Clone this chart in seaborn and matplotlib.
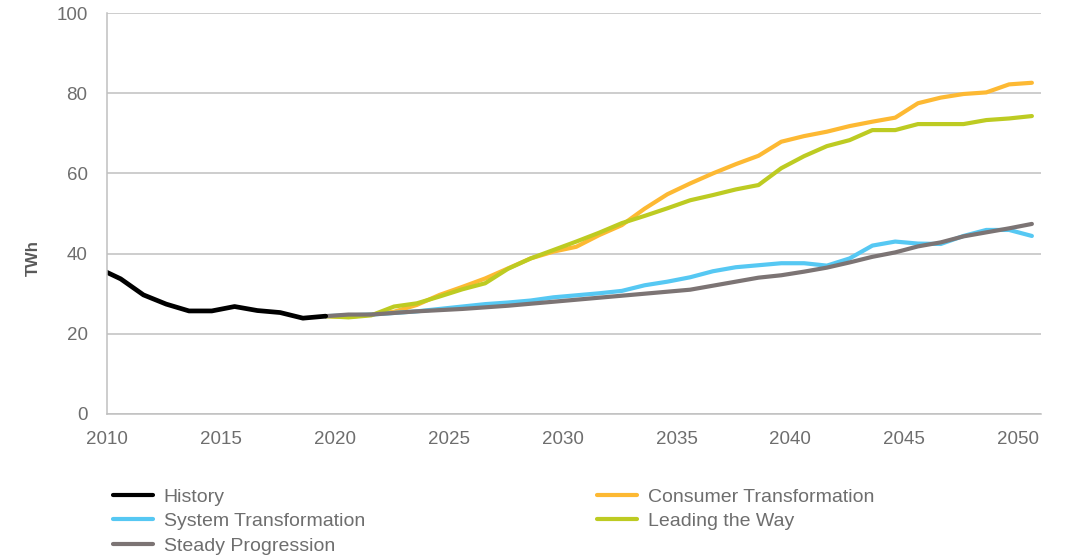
import pandas as pd
import numpy as np
import matplotlib
matplotlib.use("Agg")
import matplotlib.pyplot as plt
from matplotlib.lines import Line2D
import seaborn as sns

# ================================
# data
# ================================
hist_years = list(range(2009, 2020))
history = [36.4, 33.7, 29.7, 27.4, 25.7, 25.7, 26.8, 25.8, 25.3, 23.9, 24.4]

scen_years = list(range(2019, 2051))
consumer = [24.4, 24.2, 24.8, 25.5, 27.2, 29.7, 31.7, 33.8, 36.3, 38.8, 40.5,
            41.7, 44.6, 47.1, 51.2, 54.8, 57.5, 60.0, 62.3, 64.4, 67.9, 69.3,
            70.4, 71.8, 72.9, 73.9, 77.5, 78.9, 79.8, 80.2, 82.2, 82.6]
system = [24.4, 24.6, 24.8, 25.2, 25.6, 26.2, 26.8, 27.4, 27.8, 28.3, 29.1,
          29.6, 30.1, 30.7, 32.1, 33.0, 34.1, 35.6, 36.6, 37.1, 37.6, 37.6,
          37.0, 38.8, 42.0, 43.0, 42.5, 42.4, 44.4, 45.9, 45.9, 44.4]
leading = [24.4, 24.1, 24.6, 26.8, 27.6, 29.3, 31.1, 32.6, 36.2, 38.8, 40.9,
           43.0, 45.2, 47.6, 49.4, 51.3, 53.3, 54.6, 56.0, 57.1, 61.3, 64.3,
           66.8, 68.3, 70.8, 70.8, 72.3, 72.3, 72.3, 73.3, 73.7, 74.3]
steady = [24.4, 24.8, 24.8, 25.2, 25.6, 25.9, 26.2, 26.6, 27.0, 27.5, 28.0,
          28.5, 29.0, 29.5, 30.0, 30.5, 31.0, 32.0, 33.0, 34.0, 34.6, 35.5,
          36.5, 37.8, 39.2, 40.3, 41.8, 42.8, 44.3, 45.3, 46.3, 47.4]

colors = {
    "History": "#000000",
    "Consumer Transformation": "#FDB933",
    "System Transformation": "#56C8F3",
    "Leading the Way": "#BDCB22",
    "Steady Progression": "#7C7474",
}

# points sit a little after the year tick (financial year)
offset = 0.6

scen = pd.DataFrame({
    "year": scen_years * 4,
    "value": consumer + system + leading + steady,
    "series": (["Consumer Transformation"] * len(scen_years)
               + ["System Transformation"] * len(scen_years)
               + ["Leading the Way"] * len(scen_years)
               + ["Steady Progression"] * len(scen_years)),
})
scen["x"] = scen["year"] + offset
hist = pd.DataFrame({"x": np.array(hist_years) + offset, "value": history})

# ================================
# style
# ================================
sns.set_style("white")
plt.rcParams["font.family"] = ["Liberation Sans", "DejaVu Sans"]
text_grey = "#6E6E6E"
grid_grey = "#C0C0C0"

fig = plt.figure(figsize=(10.68, 5.57), dpi=100)
ax = fig.add_axes([107 / 1068, 1 - 414 / 557, (1041 - 107) / 1068, (414 - 13) / 557])

sns.lineplot(data=scen, x="x", y="value", hue="series", palette=colors,
             hue_order=["Consumer Transformation", "System Transformation",
                        "Leading the Way", "Steady Progression"],
             estimator=None, linewidth=3.0, legend=False, ax=ax)
sns.lineplot(data=hist, x="x", y="value", color=colors["History"],
             estimator=None, linewidth=3.4, legend=False, ax=ax)

ax.set_xlim(2010, 2051)
ax.set_ylim(0, 100)
ax.set_xticks(range(2010, 2051, 5))
ax.set_yticks(range(0, 101, 20))
ax.yaxis.grid(True, color=grid_grey, linewidth=1.1)
ax.set_axisbelow(True)
for s in ["top", "right"]:
    ax.spines[s].set_visible(False)
for s in ["left", "bottom"]:
    ax.spines[s].set_color(grid_grey)
    ax.spines[s].set_linewidth(1.1)
ax.tick_params(axis="both", direction="out", length=5, width=1.1,
               color=grid_grey, labelsize=13.5, labelcolor=text_grey)
ax.tick_params(axis="x", pad=7)
ax.tick_params(axis="y", pad=9)
ax.set_xlabel("")
ax.set_ylabel("TWh", fontsize=12, fontweight="bold", color="#595959")
ax.yaxis.set_label_coords(-0.0707, 0.39)

# ================================
# legend (two columns)
# ================================
def handles(names):
    return [Line2D([0], [0], color=colors[n], linewidth=3.0) for n in names]

col1 = ["History", "System Transformation", "Steady Progression"]
col2 = ["Consumer Transformation", "Leading the Way"]
for names, xpos in [(col1, 113), (col2, 597)]:
    leg = fig.legend(handles(names), names, loc="upper left",
                     bbox_to_anchor=(xpos / 1068, 1 - 488 / 557),
                     frameon=False, fontsize=14, borderpad=0, borderaxespad=0,
                     handlelength=2.05, handletextpad=0.55, labelspacing=0.36)
    for t in leg.get_texts():
        t.set_color(text_grey)

fig.savefig("out.png", dpi=100)
